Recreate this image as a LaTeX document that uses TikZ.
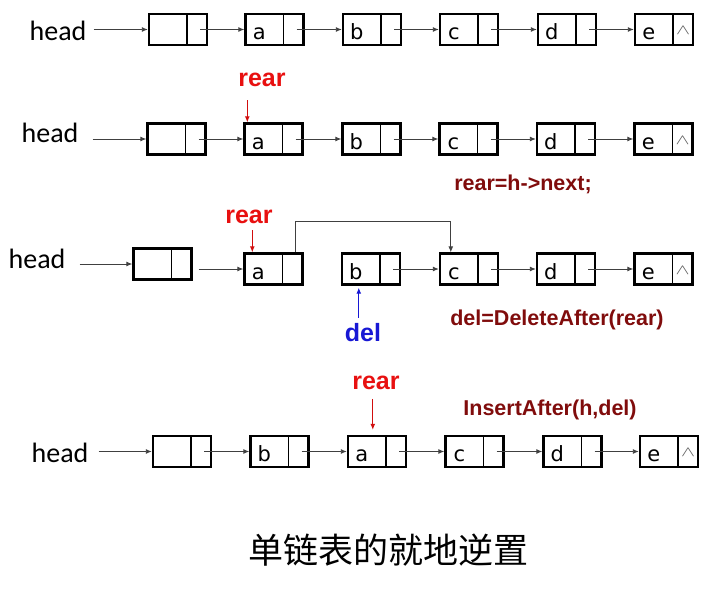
\documentclass[tikz,border=0pt]{standalone}
\usepackage{fontspec}
\newfontfamily\headfont{Carlito}
\newfontfamily\cellfont{DejaVu Sans}
\newfontfamily\codefont{Liberation Sans}
\newfontfamily\cjkfont{Noto Sans CJK SC}
\usetikzlibrary{arrows.meta}
\definecolor{rearred}{RGB}{232,16,16}
\definecolor{codered}{RGB}{128,12,12}
\definecolor{delblue}{RGB}{24,24,212}
\tikzset{
  cell/.style={draw, line width=2.4pt, minimum width=58pt, minimum height=31pt, inner sep=0pt,
    path picture={\draw[line width=1.6pt] ([xshift=38pt]path picture bounding box.north west) -- ([xshift=38pt]path picture bounding box.south west);}},
  val/.style={anchor=base, font=\cellfont\fontsize{21}{21}\selectfont, inner sep=0pt},
  headlbl/.style={font=\headfont\fontsize{28}{28}\selectfont, inner sep=3pt},
  link/.style={-{Latex[length=6pt,width=5pt]}, line width=0.9pt, black!75},
  ptr/.style={-{Latex[length=6pt,width=5pt]}, line width=1pt},
  tag/.style={font=\codefont\bfseries\fontsize{25}{25}\selectfont, inner sep=1pt},
  code/.style={font=\codefont\bfseries\fontsize{21.5}{21.5}\selectfont, text=codered},
  nil/.style={text=black!65, inner sep=0pt},
}
\newcommand{\nilmark}{\scalebox{2.1}[1.45]{$\wedge$}}
\begin{document}
\begin{tikzpicture}[x=1pt, y=-1pt]
  \useasboundingbox (0,0) rectangle (715,589);

  % row 1: the list as it is
  \node[headlbl] (h1) at (58,31) {head};
  \foreach \i/\x/\t in {0/178/{},1/274.5/a,2/372/b,3/469/c,4/567/d,5/664/e} {
    \node[cell] (r1n\i) at (\x,29.5) {};
    \node[val] (r1v\i) at ([xshift=15pt,yshift=-10pt]r1n\i.west) {\t};
  }
  \node[nil] (r1z) at ([xshift=-11pt,yshift=-1pt]r1n5.east) {\nilmark};
  \draw[link, shorten <=4pt] (h1.east |- r1n0.west) -- (r1n0.west);
  \foreach \i/\j in {0/1,1/2,2/3,3/4,4/5}
    \draw[link] ([xshift=-8pt]r1n\i.east) -- (r1n\j.west);

  % row 2: rear=h->next
  \node[headlbl] (h2) at (50,133) {head};
  \foreach \i/\x/\t in {0/176.5/{},1/273.5/a,2/371.5/b,3/468.5/c,4/566/d,5/663.5/e} {
    \node[cell] (r2n\i) at (\x,139) {};
    \node[val] (r2v\i) at ([xshift=15pt,yshift=-10pt]r2n\i.west) {\t};
  }
  \node[nil] (r2z) at ([xshift=-11pt,yshift=-1pt]r2n5.east) {\nilmark};
  \draw[link, shorten <=11pt] (h2.east |- r2n0.west) -- (r2n0.west);
  \foreach \i/\j in {0/1,1/2,2/3,3/4,4/5}
    \draw[link] ([xshift=-8pt]r2n\i.east) -- (r2n\j.west);
  \node[tag, text=rearred] (rr2) at (262,80) {rear};
  \coordinate (rt2) at ([xshift=4pt]r2n1.north west);
  \coordinate (rs2) at ([yshift=22pt]rt2);
  \draw[ptr, rearred!90!black] (rs2) -- (rt2);
  \node[code] (c2) at (523,184) {rear=h->next;};

  % row 3: del=DeleteAfter(rear)
  \node[headlbl] (h3) at (37,259) {head};
  \node[cell] (r3n0) at (162.5,264) {};
  \foreach \i/\x/\t in {1/273.5/a,2/371/b,3/469/c,4/566/d,5/663.5/e} {
    \node[cell] (r3n\i) at (\x,269) {};
    \node[val] (r3v\i) at ([xshift=15pt,yshift=-10pt]r3n\i.west) {\t};
  }
  \node[nil] (r3z) at ([xshift=-11pt,yshift=-1pt]r3n5.east) {\nilmark};
  \draw[link, shorten <=11pt] (h3.east |- r3n0.west) -- (r3n0.west);
  \coordinate (o3) at ([xshift=6pt]r3n0.east);
  \draw[link] (o3 |- r3n1.west) -- (r3n1.west);
  \foreach \i/\j in {2/3,3/4,4/5}
    \draw[link] ([xshift=-8pt]r3n\i.east) -- (r3n\j.west);
  \draw[link] ([xshift=-8pt]r3n1.north east) -- ++(0,-31) -| ([xshift=12pt]r3n3.north west);
  \node[tag, text=rearred] (rr3) at (249,217) {rear};
  \coordinate (rt3) at ([xshift=9pt]r3n1.north west);
  \coordinate (rs3) at ([yshift=22pt]rt3);
  \draw[ptr, rearred!90!black] (rs3) -- (rt3);
  \node[tag, text=delblue] (dl) at (363,333) {del};
  \coordinate (dt) at ([xshift=18pt,yshift=-2pt]r3n2.south west);
  \coordinate (ds) at ([yshift=-30pt]dt);
  \draw[ptr, delblue] (ds) -- (dt);
  \node[code] (c3) at (557,320) {del=DeleteAfter(rear)};

  % row 4: InsertAfter(h,del)
  \node[headlbl] (h4) at (60,453) {head};
  \foreach \i/\x/\t in {0/182/{},1/279.5/b,2/377/a,3/474.5/c,4/572.5/d,5/669/e} {
    \node[cell] (r4n\i) at (\x,451.5) {};
    \node[val] (r4v\i) at ([xshift=15pt,yshift=-10pt]r4n\i.west) {\t};
  }
  \node[nil] (r4z) at ([xshift=-11pt,yshift=-1pt]r4n5.east) {\nilmark};
  \draw[link, shorten <=7pt] (h4.east |- r4n0.west) -- (r4n0.west);
  \foreach \i/\j in {0/1,1/2,2/3,3/4,4/5}
    \draw[link] ([xshift=-8pt]r4n\i.east) -- (r4n\j.west);
  \node[tag, text=rearred] (rr4) at (376,383) {rear};
  \coordinate (rt4) at ([xshift=26pt,yshift=5pt]r4n2.north west);
  \coordinate (rs4) at ([yshift=31pt]rt4);
  \draw[ptr, rearred!90!black] (rs4) -- (rt4);
  \node[code] (c4) at (550,410) {InsertAfter(h,del)};

  \node[font=\cjkfont\fontsize{35}{35}\selectfont] (cap) at (388,550) {单链表的就地逆置};
\end{tikzpicture}
\end{document}
